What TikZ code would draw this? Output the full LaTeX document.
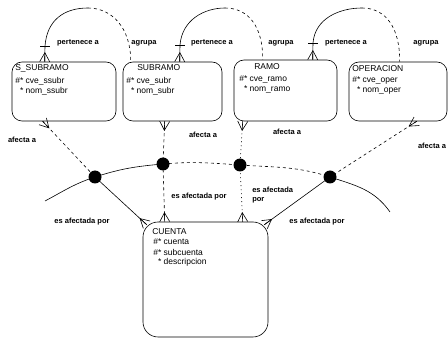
\documentclass[tikz,border=0pt]{standalone}
\usepackage{fontspec}
\setmainfont{Liberation Sans}
\usetikzlibrary{calc}

% crow's foot: toes on #1, heel towards #2
\newcommand{\crowfoot}[2]{%
  \draw[solid] ($(#1)!5pt!90:(#2)$) -- ($(#1)!9pt!(#2)$) -- ($(#1)!5pt!-90:(#2)$);
  \draw[solid] (#1) -- ($(#1)!9pt!(#2)$);}

\begin{document}
\begin{tikzpicture}[x=1pt, y=-1pt, line width=0.6pt,
    ent/.style={draw, rounded corners=10pt, inner sep=0pt},
    txt/.style={anchor=west, inner sep=0pt, font=\fontsize{8.5}{9}\selectfont},
    lbl/.style={inner sep=0pt, font=\fontsize{7.5}{8.5}\selectfont\bfseries},
    dot/.style={circle, fill=black, inner sep=0pt, minimum size=13pt},
    opt/.style={dash pattern=on 3pt off 3pt},
    opt2/.style={dash pattern=on 1pt off 3pt}]
        \useasboundingbox (0,0) rectangle (448,339);
        % entities
        \node[ent, minimum width=104pt, minimum height=59pt] (ssub) at (64,91.5) {};
        \node[ent, minimum width=99pt, minimum height=59pt] (sub) at (172.5,91.5) {};
        \node[ent, minimum width=103pt, minimum height=61pt] (ramo) at (285.5,90.5) {};
        \node[ent, minimum width=98pt, minimum height=59pt] (oper) at (398,91.5) {};
        \node[ent, rounded corners=15pt, minimum width=125pt, minimum height=115pt] (cuenta) at (205.5,279.5) {};
        \node[txt] (ssub-n) at (15,68) {S\_SUBRAMO};
        \node[txt] (ssub-k) at (15,81) {\#* cve\_ssubr};
        \node[txt] (ssub-a) at (15,91) {\phantom{\#}* nom\_ssubr};
        \node[txt] (sub-n) at (137,68) {SUBRAMO};
        \node[txt] (sub-k) at (126,81) {\#* cve\_subr};
        \node[txt] (sub-a) at (126,91) {\phantom{\#}* nom\_subr};
        \node[txt] (ramo-n) at (254,67) {RAMO};
        \node[txt] (ramo-k) at (239,79) {\#* cve\_ramo};
        \node[txt] (ramo-a) at (239,89) {\phantom{\#}* nom\_ramo};
        \node[txt] (oper-n) at (352,69) {OPERACION};
        \node[txt] (oper-k) at (352,80) {\#* cve\_oper};
        \node[txt] (oper-a) at (352,90) {\phantom{\#}* nom\_oper};
        \node[txt] (cuenta-n) at (152,232) {CUENTA};
        \node[txt] (cuenta-k1) at (153,242) {\#* cuenta};
        \node[txt] (cuenta-k2) at (153,252) {\#* subcuenta};
        \node[txt] (cuenta-a) at (153,262) {\phantom{\#}* descripcion};
        % hierarchy: pertenece a / agrupa
        \coordinate (ssub-t) at ($(ssub.north west)+(33,0)$);
        \coordinate (sub-t) at ($(sub.north west)+(57,0)$);
        \coordinate (ramo-t) at ($(ramo.north west)+(79,0)$);
        \coordinate (sub-e) at ($(sub.north west)+(8,0)$);
        \coordinate (ramo-e) at ($(ramo.north west)+(29,0)$);
        \coordinate (oper-e) at ($(oper.north west)+(51,0)$);
        \coordinate (h1) at (45,46);
        \coordinate (h2) at (180,45);
        \coordinate (h3) at (313,43);
        \draw (ssub-t) -- (h1) .. controls (47,20) and (64,8) .. (88,8);
        \draw[opt] (88,8) .. controls (112,8) and (131,28) .. (sub-e);
        \draw (sub-t) -- (h2) .. controls (182,20) and (204,8) .. (225,8);
        \draw[opt] (225,8) .. controls (248,8) and (263,26) .. (ramo-e);
        \draw (ramo-t) -- (h3) .. controls (315,18) and (340,8) .. (362,8);
        \draw[opt] (362,8) .. controls (386,8) and (400,28) .. (oper-e);
        \crowfoot{ssub-t}{h1}
        \crowfoot{sub-t}{h2}
        \crowfoot{ramo-t}{h3}
        \foreach \h in {h1,h2,h3}{
            \draw ($(\h)+(-5,0)$) -- ($(\h)+(5,0)$);
            }
        \node[lbl] (per1) at (78,43) {pertenece a};
        \node[lbl] (agr1) at (144,43) {agrupa};
        \node[lbl] (per2) at (212,43) {pertenece a};
        \node[lbl] (agr2) at (281,43) {agrupa};
        \node[lbl] (per3) at (346,43) {pertenece a};
        \node[lbl] (agr3) at (426,43) {agrupa};
        % arc
        \node[dot] (d1) at (95,177) {};
        \node[dot] (d2) at (163,164) {};
        \node[dot] (d3) at (240,165) {};
        \node[dot] (d4) at (330,177) {};
        \coordinate (arcL) at (45,201);
        \coordinate (arcR) at (390,212);
        \draw (arcL) to[out=28, in=198] (d1.center) to[out=18, in=185] (d2.center);
        \draw[opt] (d2.center) to[out=5, in=176] (d3.center) to[out=-4, in=162] (d4.center);
        \draw (d4.center) to[out=-18, in=125] (arcR);
        % afecta a / es afectada por
        \coordinate (ssub-b) at ($(ssub.south west)+(31,0)$);
        \coordinate (sub-b) at ($(sub.south west)+(42,0)$);
        \coordinate (ramo-b) at ($(ramo.south west)+(9,0)$);
        \coordinate (oper-b) at ($(oper.south west)+(68,0)$);
        \coordinate (cuenta-1) at ($(cuenta.north west)+(4,3)$);
        \coordinate (cuenta-2) at ($(cuenta.north west)+(22,0)$);
        \coordinate (cuenta-3) at ($(cuenta.north west)+(100,0)$);
        \coordinate (cuenta-4) at ($(cuenta.north east)+(-4,3)$);
        \draw[opt] (ssub-b) -- (d1.center);
        \draw (d1.center) -- (cuenta-1);
        \draw[opt] (sub-b) -- (d2.center) -- (cuenta-2);
        \draw[opt2] (ramo-b) -- (d3.center) -- (cuenta-3);
        \draw[opt] (oper-b) -- (d4.center);
        \draw (d4.center) -- (cuenta-4);
        \crowfoot{ssub-b}{d1}
        \crowfoot{sub-b}{d2}
        \crowfoot{ramo-b}{d3}
        \crowfoot{oper-b}{d4}
        \crowfoot{cuenta-1}{d1}
        \crowfoot{cuenta-2}{d2}
        \crowfoot{cuenta-3}{d3}
        \crowfoot{cuenta-4}{d4}
        \node[lbl] (afe1) at (22,140) {afecta a};
        \node[lbl] (afe2) at (203,135) {afecta a};
        \node[lbl] (afe3) at (287,132) {afecta a};
        \node[lbl] (afe4) at (432,146) {afecta a};
        \node[lbl] (esa1) at (82,222) {es afectada por};
        \node[lbl] (esa2) at (199,197) {es afectada por};
        \node[lbl, align=left, anchor=west] (esa3) at (252,195) {es afectada\\por};
        \node[lbl] (esa4) at (317,222) {es afectada por};
\end{tikzpicture}
\end{document}
